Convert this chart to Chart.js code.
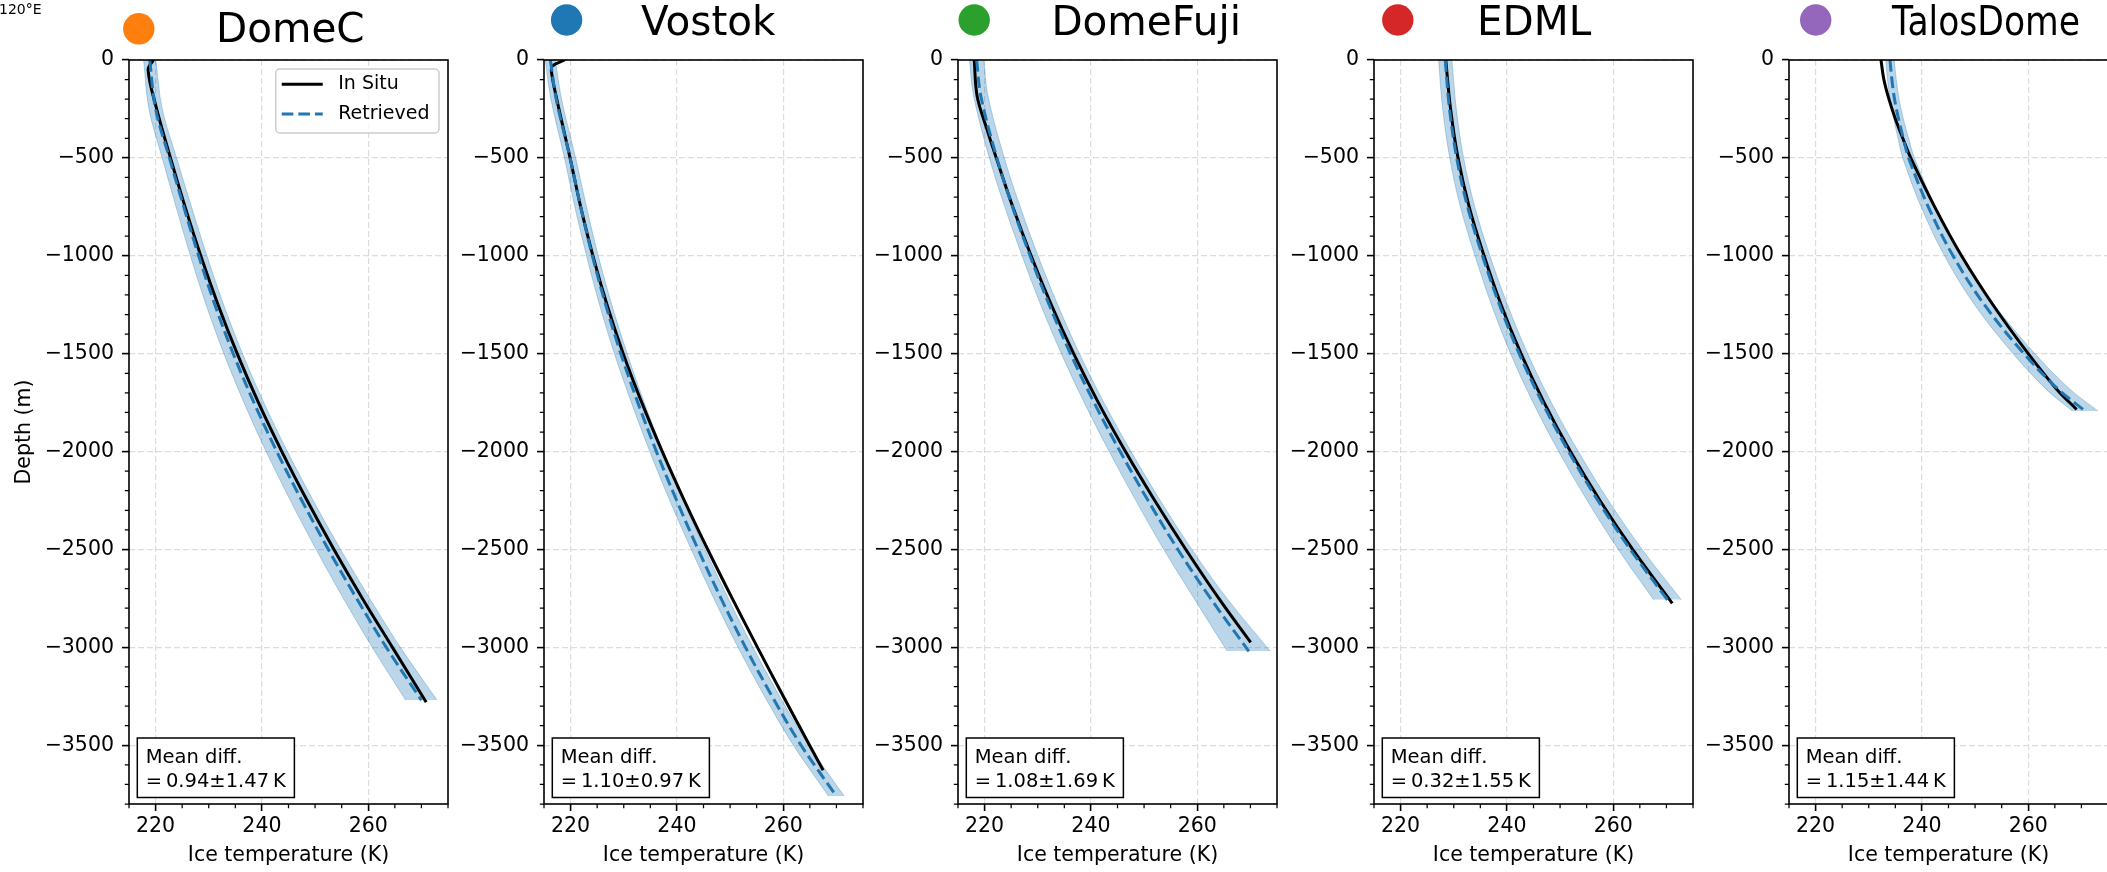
<!DOCTYPE html>
<html>
<head>
<meta charset="utf-8">
<title>Ice temperature profiles</title>
<script src="https://cdn.jsdelivr.net/npm/chart.js@4.4.1/dist/chart.umd.min.js"></script>
<style>
  html, body { margin: 0; padding: 0; background: #fff; overflow: hidden; }
  body { position: relative; width: 2107px; height: 872px; }
  canvas { position: absolute; top: 0; }
</style>
</head>
<body>
<canvas id="panel0"></canvas>
<canvas id="panel1"></canvas>
<canvas id="panel2"></canvas>
<canvas id="panel3"></canvas>
<canvas id="panel4"></canvas>
<script>
/* =============================================
   Ice temperature vs depth, five Antarctic sites
   in situ profile vs retrieved profile (+ band)
   ============================================= */

// --- common labels / ticks ---
const stationNames = ["DomeC", "Vostok", "DomeFuji", "EDML", "TalosDome"];
const stationColors = ["#ff7f0e", "#1f77b4", "#2ca02c", "#d62728", "#9467bd"];
const meanDiffText = ["0.94±1.47", "1.10±0.97", "1.08±1.69", "0.32±1.55", "1.15±1.44"];
const depthTicks = [0, -500, -1000, -1500, -2000, -2500, -3000, -3500];
const tempTicks = [220, 240, 260];

// --- DomeC ---
const domeCInSituDepth = [0, -50, -250, -500, -750, -1000, -1250, -1500, -1750, -2000, -2250, -2500, -2750, -3000, -3280];
const domeCInSituTemp = [219.6, 218.6, 220.2, 222.8, 225.55, 228.5, 231.75, 235.35, 239.35, 243.75, 248.5, 253.55, 258.9, 264.55, 270.9];
const domeCRetDepth = [0, -250, -500, -750, -1000, -1250, -1500, -1750, -2000, -2250, -2500, -2750, -3000, -3270];
const domeCRetTemp = [218.9, 220.0, 222.6, 225.3, 228.1, 231.15, 234.6, 238.5, 242.8, 247.5, 252.5, 257.8, 263.4, 270.0];
const domeCRetSigma = [1.15, 1.25, 1.35, 1.45, 1.55, 1.65, 1.75, 1.87, 2.0, 2.15, 2.3, 2.47, 2.65, 2.95];

// --- Vostok ---
const vostokInSituDepth = [0, -30, -60, -200, -500, -750, -1000, -1250, -1500, -1750, -2000, -2250, -2500, -2750, -3000, -3250, -3500, -3628];
const vostokInSituTemp = [218.9, 216.6, 216.4, 217.4, 219.9, 221.9, 224.2, 226.85, 229.9, 233.4, 237.25, 241.4, 245.8, 250.4, 255.15, 260.0, 264.95, 267.5];
const vostokRetDepth = [0, -200, -500, -750, -1000, -1250, -1500, -1750, -2000, -2250, -2500, -2750, -3000, -3250, -3500, -3760];
const vostokRetTemp = [216.2, 217.3, 219.9, 221.9, 224.1, 226.6, 229.45, 232.65, 236.15, 239.95, 244.0, 248.3, 252.9, 257.9, 263.35, 270.0];
const vostokRetSigma = [0.95, 1.0, 1.05, 1.1, 1.1, 1.15, 1.2, 1.2, 1.25, 1.3, 1.3, 1.35, 1.4, 1.42, 1.45, 1.47];

// --- DomeFuji ---
const domeFujiInSituDepth = [0, -185, -350, -500, -750, -1000, -1250, -1500, -1750, -2000, -2250, -2500, -2750, -2975];
const domeFujiInSituTemp = [218.05, 218.6, 220.4, 222.2, 225.3, 228.75, 232.55, 236.75, 241.4, 246.5, 252.0, 257.85, 264.05, 270.05];
const domeFujiRetDepth = [0, -185, -500, -750, -1000, -1250, -1500, -1750, -2000, -2250, -2500, -2750, -3020];
const domeFujiRetTemp = [218.5, 219.3, 222.3, 225.25, 228.55, 232.15, 236.15, 240.6, 245.5, 250.75, 256.35, 262.5, 269.7];
const domeFujiRetSigma = [1.35, 1.35, 1.4, 1.45, 1.5, 1.6, 1.7, 1.85, 2.05, 2.3, 2.65, 3.1, 4.05];

// --- EDML ---
const edmlInSituDepth = [0, -250, -500, -750, -1000, -1250, -1500, -1750, -2000, -2250, -2500, -2775];
const edmlInSituTemp = [228.5, 229.4, 230.8, 232.9, 235.7, 238.9, 242.65, 247.0, 251.95, 257.5, 263.65, 271.1];
const edmlRetDepth = [0, -250, -500, -750, -1000, -1250, -1500, -1750, -2000, -2250, -2500, -2757];
const edmlRetTemp = [228.4, 229.2, 230.55, 232.6, 235.4, 238.6, 242.3, 246.65, 251.6, 257.1, 263.2, 270.2];
const edmlRetSigma = [1.25, 1.28, 1.3, 1.35, 1.4, 1.5, 1.6, 1.72, 1.85, 2.0, 2.25, 2.6];

// --- TalosDome ---
const talosInSituDepth = [0, -100, -200, -300, -400, -500, -750, -1000, -1250, -1500, -1680, -1785];
const talosInSituTemp = [232.3, 232.85, 233.8, 235.0, 236.4, 237.9, 242.4, 247.45, 253.35, 260.0, 265.3, 269.1];
const talosRetDepth = [0, -100, -200, -300, -400, -500, -750, -1000, -1250, -1500, -1680, -1793];
const talosRetTemp = [234.0, 234.35, 234.85, 235.6, 236.5, 237.5, 241.2, 245.85, 251.75, 259.2, 265.55, 270.7];
const talosRetSigma = [0.8, 0.82, 0.85, 0.9, 1.0, 1.1, 1.35, 1.6, 1.85, 2.05, 2.25, 2.4];

const profiles = [
  { inD: domeCInSituDepth, inT: domeCInSituTemp, retD: domeCRetDepth, retT: domeCRetTemp, sig: domeCRetSigma },
  { inD: vostokInSituDepth, inT: vostokInSituTemp, retD: vostokRetDepth, retT: vostokRetTemp, sig: vostokRetSigma },
  { inD: domeFujiInSituDepth, inT: domeFujiInSituTemp, retD: domeFujiRetDepth, retT: domeFujiRetTemp, sig: domeFujiRetSigma },
  { inD: edmlInSituDepth, inT: edmlInSituTemp, retD: edmlRetDepth, retT: edmlRetTemp, sig: edmlRetSigma },
  { inD: talosInSituDepth, inT: talosInSituTemp, retD: talosRetDepth, retT: talosRetTemp, sig: talosRetSigma },
];

// --- layout (pixels) ---
const FONT = "'DejaVu Sans', sans-serif";
const PLOT_W = 319;
const PAD_R = 8;
const panelLefts = [129, 544, 958, 1374, 1789];
const titleCircleDx = [9.8, 22.6, 16.2, 23.8, 26.7];
const titleCircleY = [28.8, 20, 20, 20, 20];
const titleTextDx = [87, 97, 93.4, 103, 103];
const titleTextY = [42.3, 35, 35, 35, 35];
const titleMaxW = [null, null, null, null, 188];

const BLUE = "#1f77b4";
const BAND_FILL = "rgba(31,119,180,0.3)";
const GRID = "#dcdcdc";

function minusLabel(v) {
  return v < 0 ? "\u2212" + Math.abs(v) : String(v);
}

// axis decoration: minor ticks, frame, title, legend, mean-diff box
const panelDecor = {
  id: "panelDecor",
  afterDraw(chart, args, opts) {
    const { ctx, chartArea: area, scales } = chart;
    const i = opts.index;
    ctx.save();

    // minor ticks
    ctx.strokeStyle = "#000";
    ctx.lineWidth = 1.25;
    ctx.beginPath();
    for (let v = -3800; v <= 0; v += 100) {
      if (v % 500 === 0) continue;
      const py = scales.y.getPixelForValue(v);
      ctx.moveTo(area.left - 4.2, py);
      ctx.lineTo(area.left, py);
    }
    for (let v = 215; v <= 275; v += 5) {
      if (v % 20 === 0) continue;
      const px = scales.x.getPixelForValue(v);
      ctx.moveTo(px, area.bottom);
      ctx.lineTo(px, area.bottom + 4.2);
    }
    ctx.stroke();

    // spines
    ctx.lineWidth = 1.6;
    ctx.strokeRect(area.left, area.top, area.right - area.left, area.bottom - area.top);

    // mean difference box
    ctx.font = "19.5px " + FONT;
    const line1 = "Mean diff.";
    const line2 = "=\u2009" + meanDiffText[i] + "\u2009K";
    const boxW = Math.max(ctx.measureText(line1).width, ctx.measureText(line2).width) + 17;
    const boxB = area.bottom - 6.5;
    const boxT = boxB - 59.5;
    const boxL = area.left + 8.3;
    ctx.fillStyle = "#fff";
    ctx.fillRect(boxL, boxT, boxW, boxB - boxT);
    ctx.lineWidth = 1.5;
    ctx.strokeRect(boxL, boxT, boxW, boxB - boxT);
    ctx.fillStyle = "#000";
    ctx.textAlign = "left";
    ctx.textBaseline = "alphabetic";
    ctx.fillText(line1, boxL + 8.4, boxT + 25.3);
    ctx.fillText(line2, boxL + 8.4, boxT + 48.7);

    // title: coloured marker + station name
    ctx.fillStyle = stationColors[i];
    ctx.beginPath();
    ctx.arc(area.left + titleCircleDx[i], titleCircleY[i], 15.7, 0, Math.PI * 2);
    ctx.fill();
    ctx.fillStyle = "#000";
    ctx.font = "40.5px " + FONT;
    if (titleMaxW[i]) {
      ctx.fillText(stationNames[i], area.left + titleTextDx[i], titleTextY[i], titleMaxW[i]);
    } else {
      ctx.fillText(stationNames[i], area.left + titleTextDx[i], titleTextY[i]);
    }

    if (i === 0) {
      // corner leftover of the map inset
      ctx.font = "14px " + FONT;
      ctx.fillText("120°E", -1, 14);

      // legend
      ctx.font = "19px " + FONT;
      const legW = 62.5 + ctx.measureText("Retrieved").width + 9.5;
      const legL = area.right - 9 - legW;
      const legT = area.top + 9;
      ctx.beginPath();
      ctx.roundRect(legL, legT, legW, 64, 4);
      ctx.fillStyle = "rgba(255,255,255,0.8)";
      ctx.fill();
      ctx.strokeStyle = "#cccccc";
      ctx.lineWidth = 1.5;
      ctx.stroke();

      ctx.lineWidth = 3;
      ctx.strokeStyle = "#000";
      ctx.beginPath();
      ctx.moveTo(legL + 6, legT + 15.3);
      ctx.lineTo(legL + 47, legT + 15.3);
      ctx.stroke();
      ctx.strokeStyle = BLUE;
      ctx.setLineDash([11.6, 5]);
      ctx.beginPath();
      ctx.moveTo(legL + 6, legT + 45);
      ctx.lineTo(legL + 47, legT + 45);
      ctx.stroke();
      ctx.setLineDash([]);

      ctx.fillStyle = "#000";
      ctx.textBaseline = "middle";
      ctx.fillText("In Situ", legL + 62.5, legT + 15.3);
      ctx.fillText("Retrieved", legL + 62.5, legT + 45);
    }
    ctx.restore();
  },
};

function makePanel(i) {
  const canvas = document.getElementById("panel" + i);
  const axisW = i === 0 ? 129 : 100;
  canvas.width = axisW + PLOT_W + PAD_R;
  canvas.height = 872;
  canvas.style.left = panelLefts[i] - axisW + "px";

  const p = profiles[i];
  const inSitu = p.inT.map((t, k) => ({ x: t, y: p.inD[k] }));
  const retrieved = p.retT.map((t, k) => ({ x: t, y: p.retD[k] }));
  const lower = p.retT.map((t, k) => ({ x: t - p.sig[k], y: p.retD[k] }));
  const upper = p.retT.map((t, k) => ({ x: t + p.sig[k], y: p.retD[k] }));

  return new Chart(canvas, {
    type: "line",
    data: {
      datasets: [
        { data: lower, borderColor: BAND_FILL, borderWidth: 1, fill: false, order: 3 },
        { data: upper, borderColor: BAND_FILL, borderWidth: 1, backgroundColor: BAND_FILL, fill: "-1", order: 2 },
        { label: "In Situ", data: inSitu, borderColor: "#000", borderWidth: 3, fill: false, order: 1 },
        { label: "Retrieved", data: retrieved, borderColor: BLUE, borderWidth: 3, borderDash: [11.6, 5], fill: false, order: 0 },
      ],
    },
    options: {
      indexAxis: "y",
      responsive: false,
      devicePixelRatio: 1,
      animation: false,
      events: [],
      layout: { padding: { top: 60, right: PAD_R, left: 0, bottom: 0 } },
      elements: {
        point: { radius: 0 },
        line: { tension: 0.35, borderCapStyle: "butt" },
      },
      plugins: {
        legend: { display: false },
        tooltip: { enabled: false },
        panelDecor: { index: i },
      },
      scales: {
        x: {
          type: "linear",
          position: "bottom",
          min: 215,
          max: 275,
          afterBuildTicks: (scale) => { scale.ticks = tempTicks.map((v) => ({ value: v })); },
          afterFit: (scale) => { scale.height = 68; },
          ticks: { color: "#000", font: { family: FONT, size: 20.5 }, padding: 3, maxRotation: 0, autoSkip: false, callback: minusLabel },
          grid: { color: GRID, lineWidth: 1.2, tickLength: 7, tickColor: "#000", tickWidth: 1.6 },
          border: { display: false, dash: [6, 3] },
          title: { display: true, text: "Ice temperature (K)", color: "#000", font: { family: FONT, size: 20.5 }, padding: { top: 0, bottom: 4 } },
        },
        y: {
          type: "linear",
          position: "left",
          min: -3800,
          max: 0,
          afterBuildTicks: (scale) => { scale.ticks = depthTicks.map((v) => ({ value: v })); },
          afterFit: (scale) => { scale.width = axisW; },
          ticks: { color: "#000", font: { family: FONT, size: 20.5 }, padding: 8, autoSkip: false, callback: minusLabel },
          grid: { color: GRID, lineWidth: 1.2, tickLength: 7, tickColor: "#000", tickWidth: 1.6 },
          border: { display: false, dash: [6, 3] },
          title: { display: i === 0, text: "Depth (m)", color: "#000", font: { family: FONT, size: 20.5 }, padding: { top: 12, bottom: 0 } },
        },
      },
    },
    plugins: [panelDecor],
  });
}

stationNames.forEach((name, i) => makePanel(i));
</script>
</body>
</html>
